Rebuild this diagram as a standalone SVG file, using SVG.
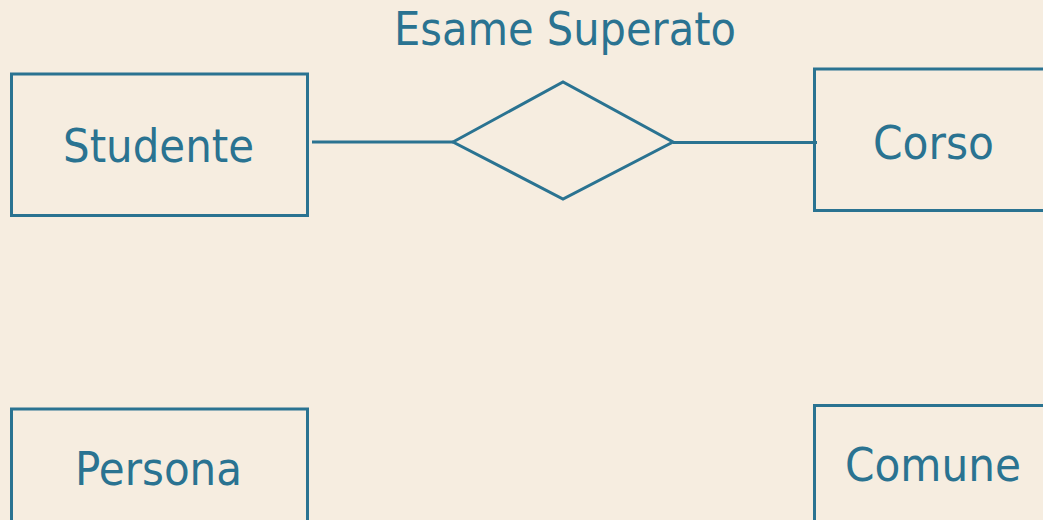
<svg xmlns="http://www.w3.org/2000/svg" width="1043" height="520" viewBox="0 0 1043 520">
<style>
.bg{fill:#F6EDE0}
.ent{fill:none;stroke:#2A7391;stroke-width:3}
.rel{fill:none;stroke:#2A7391;stroke-width:3;stroke-linejoin:miter}
.conn{stroke:#2A7391;stroke-width:3;fill:none}
.lbl{font-family:"DejaVu Sans","Liberation Sans",sans-serif;font-size:46.5px;fill:#2A7391}
</style>
<rect class="bg" x="0" y="0" width="1043" height="520"/>
<g id="connectors">
<line class="conn" x1="312" y1="142" x2="453" y2="142"/>
<line class="conn" x1="673" y1="142.5" x2="817" y2="142.5"/>
</g>
<g id="rel-esame">
<polygon class="rel" points="453,142 563,82 673,142 563,199"/>
<text class="lbl" x="394" y="45" textLength="342" lengthAdjust="spacingAndGlyphs">Esame Superato</text>
</g>
<g id="studente">
<rect class="ent" x="11.5" y="74" width="296" height="141.5"/>
<text class="lbl" x="63" y="162" textLength="191" lengthAdjust="spacingAndGlyphs">Studente</text>
</g>
<g id="corso">
<rect class="ent" x="814.5" y="69" width="240" height="141.5"/>
<text class="lbl" x="873" y="159" textLength="121" lengthAdjust="spacingAndGlyphs">Corso</text>
</g>
<g id="persona">
<rect class="ent" x="11.5" y="409" width="296" height="130"/>
<text class="lbl" x="75" y="485" textLength="167" lengthAdjust="spacingAndGlyphs">Persona</text>
</g>
<g id="comune">
<rect class="ent" x="814.5" y="405.5" width="240" height="130"/>
<text class="lbl" x="845" y="481" textLength="176" lengthAdjust="spacingAndGlyphs">Comune</text>
</g>
</svg>
